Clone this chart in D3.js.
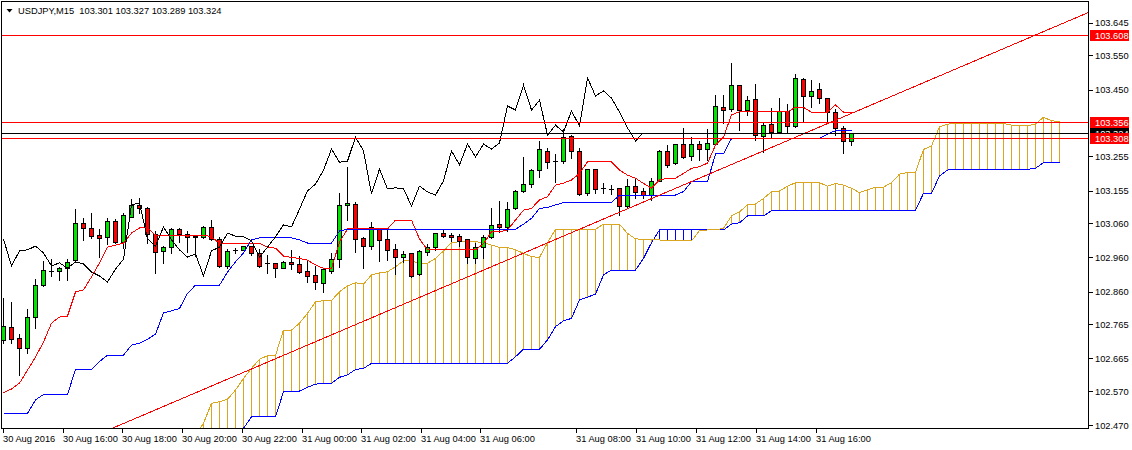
<!DOCTYPE html>
<html>
<head>
<meta charset="utf-8">
<script src="https://cdn.jsdelivr.net/npm/d3@7"></script>
<style>
  html,body{margin:0;padding:0;background:#fff;}
  svg{display:block;}
  text{font-family:"Liberation Sans",Arial,sans-serif;font-size:9.3px;fill:#000;}
</style>
</head>
<body>
<svg id="chart" width="1132" height="450"></svg>
<script>
// USDJPY M15 candles with Ichimoku, MT4 look

const SYMBOL_TITLE = "USDJPY,M15  103.301 103.327 103.289 103.324";

const OPEN = [
  102.719,102.757,102.725,102.696,102.786,102.879,102.920,102.920,102.929,102.952,
  103.060,103.046,103.025,103.020,103.066,103.005,103.078,103.113,103.104,103.028,
  102.979,102.990,103.043,103.028,103.022,103.020,103.049,103.014,102.935,102.982,
  102.982,102.993,102.973,102.944,102.944,102.929,102.947,102.941,102.920,102.909,
  102.885,102.920,102.955,103.113,103.116,103.017,102.993,103.046,103.014,102.985,
  102.961,102.973,102.912,102.976,102.990,103.031,103.025,103.022,103.014,102.958,
  102.990,103.020,103.057,103.049,103.104,103.154,103.174,103.215,103.270,103.241,
  103.241,103.314,103.271,103.148,103.218,103.163,103.160,103.163,103.110,103.168,
  103.154,103.142,103.183,103.271,103.236,103.291,103.256,103.291,103.276,103.291,
  103.399,103.393,103.463,103.390,103.422,103.314,103.349,103.326,103.387,103.344,
  103.481,103.431,103.452,103.425,103.384,103.338,103.301
];
const HIGH = [
  102.844,102.833,102.739,102.812,102.900,102.952,102.958,102.935,102.958,103.104,
  103.078,103.093,103.046,103.078,103.075,103.093,103.133,103.136,103.110,103.040,
  102.996,103.049,103.049,103.040,103.025,103.055,103.072,103.022,102.987,102.990,
  102.993,102.993,102.987,102.970,102.947,102.952,102.985,102.967,102.955,102.938,
  102.929,102.976,103.151,103.227,103.125,103.022,103.066,103.049,103.046,103.002,
  102.982,102.976,102.985,103.002,103.034,103.043,103.034,103.031,103.017,103.005,
  103.028,103.107,103.128,103.125,103.160,103.256,103.221,103.303,103.282,103.265,
  103.338,103.320,103.282,103.221,103.221,103.180,103.174,103.165,103.192,103.192,
  103.165,103.195,103.276,103.291,103.294,103.341,103.314,103.303,103.338,103.437,
  103.437,103.530,103.466,103.434,103.469,103.358,103.399,103.428,103.411,103.498,
  103.487,103.481,103.472,103.425,103.396,103.346,103.327
];
const LOW = [
  102.710,102.710,102.617,102.681,102.754,102.877,102.906,102.894,102.894,102.947,
  103.011,103.017,102.961,102.999,103.002,102.987,103.078,103.090,103.002,102.915,
  102.944,102.973,103.005,102.976,102.964,103.017,103.011,102.932,102.929,102.973,
  102.982,102.967,102.932,102.915,102.903,102.929,102.926,102.915,102.888,102.868,
  102.859,102.915,102.932,103.069,102.976,102.929,102.985,102.950,102.952,102.912,
  102.947,102.903,102.909,102.967,102.982,103.020,103.008,102.993,102.944,102.944,
  102.958,103.017,103.034,103.037,103.101,103.151,103.165,103.195,103.221,103.180,
  103.236,103.250,103.142,103.142,103.148,103.148,103.145,103.084,103.104,103.133,
  103.133,103.128,103.183,103.224,103.233,103.250,103.244,103.244,103.244,103.288,
  103.352,103.387,103.332,103.376,103.303,103.268,103.308,103.323,103.323,103.341,
  103.355,103.399,103.411,103.355,103.317,103.265,103.289
];
const CLOSE = [
  102.760,102.722,102.696,102.786,102.879,102.923,102.920,102.929,102.947,103.060,
  103.046,103.022,103.017,103.066,103.005,103.084,103.113,103.104,103.028,102.976,
  102.990,103.043,103.028,103.020,103.020,103.049,103.014,102.935,102.979,102.982,
  102.993,102.973,102.935,102.944,102.929,102.947,102.941,102.917,102.906,102.888,
  102.926,102.955,103.113,103.119,103.014,102.993,103.049,103.011,102.982,102.961,
  102.970,102.906,102.979,102.990,103.031,103.022,103.020,103.008,102.961,102.990,
  103.020,103.055,103.049,103.101,103.154,103.174,103.215,103.276,103.238,103.241,
  103.311,103.271,103.145,103.218,103.160,103.163,103.160,103.110,103.168,103.151,
  103.142,103.183,103.271,103.230,103.291,103.253,103.291,103.276,103.294,103.402,
  103.390,103.463,103.390,103.419,103.317,103.346,103.326,103.387,103.344,103.484,
  103.431,103.446,103.425,103.384,103.338,103.300,103.324
];

// Tenkan-sen (red) and Kijun-sen (blue), one value per bar
const TENKAN = [
  102.565,102.576,102.593,102.631,102.669,102.713,102.768,102.786,102.789,102.859,
  102.865,102.903,102.944,102.990,102.996,103.002,103.031,103.046,103.046,103.025,
  103.025,103.025,103.025,103.025,103.025,103.025,103.020,103.001,103.001,103.001,
  103.001,103.001,103.001,102.990,102.987,102.964,102.960,102.957,102.952,102.938,
  102.928,102.928,103.005,103.043,103.043,103.043,103.043,103.043,103.043,103.069,
  103.069,103.069,103.014,102.982,102.982,102.982,102.982,102.982,102.982,102.982,
  103.000,103.035,103.035,103.040,103.069,103.098,103.103,103.128,103.137,103.171,
  103.177,103.186,103.205,103.239,103.239,103.239,103.239,103.215,103.200,103.191,
  103.176,103.162,103.186,103.191,103.191,103.205,103.220,103.225,103.235,103.288,
  103.311,103.376,103.385,103.385,103.385,103.385,103.385,103.385,103.385,103.398,
  103.398,103.384,103.384,103.384,103.405,103.384,103.384
];
const KIJUN = [
  102.505,102.505,102.505,102.505,102.544,102.560,102.560,102.560,102.560,102.633,
  102.633,102.633,102.656,102.675,102.675,102.675,102.704,102.710,102.721,102.736,
  102.798,102.804,102.811,102.855,102.879,102.879,102.879,102.879,102.917,102.947,
  102.973,103.011,103.017,103.017,103.017,103.017,103.017,103.011,103.002,103.002,
  103.002,103.002,103.037,103.042,103.042,103.042,103.042,103.042,103.042,103.042,
  103.042,103.042,103.042,103.042,103.042,103.042,103.042,103.042,103.042,103.042,
  103.042,103.042,103.042,103.042,103.042,103.057,103.074,103.103,103.106,103.113,
  103.120,103.120,103.120,103.120,103.120,103.120,103.120,103.142,103.142,103.142,
  103.142,103.142,103.142,103.142,103.142,103.152,103.181,103.181,103.181,103.262,
  103.262,103.307,103.307,103.307,103.307,103.307,103.307,103.307,103.307,103.307,
  103.307,103.307,103.307,103.320,103.330,103.330,103.330
];

// Senkou spans as drawn (already shifted forward), starting at bar SPAN_FIRST_BAR
const SPAN_FIRST_BAR = 24;
const SPAN_A = [
  102.442,102.476,102.534,102.539,102.546,102.573,102.607,102.636,102.663,102.673,
  102.674,102.748,102.748,102.768,102.797,102.830,102.834,102.834,102.860,102.877,
  102.886,102.882,102.909,102.915,102.918,102.933,102.950,102.952,102.940,102.943,
  102.957,102.979,103.003,103.006,103.006,103.006,103.003,102.996,102.989,102.989,
  102.982,102.972,102.962,102.960,103.003,103.042,103.042,103.042,103.042,103.042,
  103.042,103.057,103.057,103.057,103.030,103.014,103.013,103.011,103.011,103.008,
  103.008,103.008,103.008,103.038,103.040,103.040,103.045,103.081,103.093,103.113,
  103.116,103.132,103.152,103.154,103.168,103.178,103.178,103.178,103.178,103.168,
  103.176,103.171,103.162,103.149,103.157,103.165,103.165,103.178,103.203,103.208,
  103.208,103.275,103.285,103.341,103.349,103.351,103.351,103.351,103.351,103.351,
  103.351,103.351,103.346,103.344,103.344,103.349,103.369,103.359,103.356
];
const SPAN_B = [
  102.339,102.363,102.383,102.398,102.412,102.427,102.461,102.495,102.495,102.495,
  102.495,102.568,102.568,102.570,102.581,102.590,102.593,102.593,102.610,102.617,
  102.633,102.636,102.651,102.651,102.651,102.651,102.651,102.651,102.651,102.651,
  102.651,102.651,102.651,102.651,102.651,102.651,102.651,102.651,102.651,102.651,
  102.670,102.692,102.692,102.692,102.719,102.758,102.775,102.782,102.836,102.844,
  102.853,102.909,102.923,102.923,102.923,102.923,102.957,103.003,103.040,103.040,
  103.040,103.040,103.040,103.040,103.040,103.040,103.040,103.057,103.061,103.081,
  103.081,103.081,103.096,103.096,103.096,103.096,103.096,103.096,103.096,103.096,
  103.096,103.096,103.096,103.096,103.096,103.096,103.096,103.098,103.098,103.098,
  103.098,103.147,103.147,103.198,103.215,103.217,103.217,103.217,103.217,103.217,
  103.217,103.217,103.217,103.217,103.217,103.220,103.237,103.238,103.238
];
const CHIKOU_SHIFT = 26;

// trend line anchors and horizontal levels
const TREND_POINTS = [{bar:20, price:102.525}, {bar:130, price:103.619}];
const RED_LEVELS = [103.608, 103.356, 103.308];
const BID_LEVEL = 103.324;

const PRICE_TICKS = [103.645,103.550,103.450,103.255,103.155,103.060,102.960,102.860,102.765,102.665,102.570,102.470];
const TIME_LABELS = ["30 Aug 2016","30 Aug 16:00","30 Aug 18:00","30 Aug 20:00","30 Aug 22:00",
  "31 Aug 00:00","31 Aug 02:00","31 Aug 04:00","31 Aug 06:00","31 Aug 08:00",
  "31 Aug 10:00","31 Aug 12:00","31 Aug 14:00","31 Aug 16:00"];
const TIME_TICK_BARS = [-0.1,7.4,14.8,22.3,29.8,37.3,44.7,52.15,59.6,71.55,79.1,86.55,94.05,101.5];

const C_BULL="#00e400", C_BEAR="#ff0000", C_TENKAN="#ff0000", C_KIJUN="#0000ff",
      C_SPANA="#daa520", C_SPANB="#0000ff", C_LEVEL="#ff0000";

const PL=2, PT=2, PR=1089, PB=429;

const svg=d3.select("#chart");
const x=d3.scaleLinear().domain([0,106]).range([3.5,851.5]);
const y=d3.scaleLinear().domain([102.470,103.645]).range([425.3,22.7]);
const py=v=>Math.round(y(v))+0.5;

svg.append("rect").attr("width",1132).attr("height",450).attr("fill","#fff");
svg.append("clipPath").attr("id","plot")
  .append("rect").attr("x",PL).attr("y",PT).attr("width",PR-PL).attr("height",PB-PT);

const g=svg.append("g").attr("clip-path","url(#plot)").style("shape-rendering","crispEdges");

// cloud hatching
const spanRows=SPAN_A.map((a,k)=>({bar:SPAN_FIRST_BAR+k, a, b:SPAN_B[k]}));
g.selectAll("line.hatch").data(spanRows).join("line").attr("class","hatch")
  .attr("x1",d=>x(d.bar)).attr("x2",d=>x(d.bar))
  .attr("y1",d=>y(d.a)).attr("y2",d=>y(d.b))
  .attr("stroke",d=>d.a>=d.b?C_SPANA:C_SPANB).attr("stroke-width",1);

const line=d3.line().x(d=>x(d[0])).y(d=>y(d[1]));
g.append("path").attr("d",line(spanRows.map(d=>[d.bar,d.b])))
  .attr("fill","none").attr("stroke",C_SPANB).attr("stroke-width",1);
g.append("path").attr("d",line(spanRows.map(d=>[d.bar,d.a])))
  .attr("fill","none").attr("stroke",C_SPANA).attr("stroke-width",1);

// candles
const bars=OPEN.map((o,i)=>({i,o,h:HIGH[i],l:LOW[i],c:CLOSE[i]}));
g.selectAll("line.wick").data(bars).join("line").attr("class","wick")
  .attr("x1",d=>x(d.i)).attr("x2",d=>x(d.i))
  .attr("y1",d=>py(d.h)).attr("y2",d=>py(d.l))
  .attr("stroke","#000").attr("stroke-width",1);
g.selectAll("rect.body").data(bars.filter(d=>d.o!==d.c)).join("rect").attr("class","body")
  .attr("x",d=>x(d.i)-2).attr("width",4)
  .attr("y",d=>py(Math.max(d.o,d.c)))
  .attr("height",d=>Math.max(1,py(Math.min(d.o,d.c))-py(Math.max(d.o,d.c))))
  .attr("fill",d=>d.c>d.o?C_BULL:C_BEAR)
  .attr("stroke","#000").attr("stroke-width",1);
g.selectAll("line.doji").data(bars.filter(d=>d.o===d.c)).join("line").attr("class","doji")
  .attr("x1",d=>x(d.i)-2.5).attr("x2",d=>x(d.i)+2.5)
  .attr("y1",d=>py(d.c)).attr("y2",d=>py(d.c))
  .attr("stroke","#000").attr("stroke-width",1);

// Ichimoku lines
g.append("path").attr("d",line(TENKAN.map((v,i)=>[i,v])))
  .attr("fill","none").attr("stroke",C_TENKAN).attr("stroke-width",1);
g.append("path").attr("d",line(KIJUN.map((v,i)=>[i,v])))
  .attr("fill","none").attr("stroke",C_KIJUN).attr("stroke-width",1);
g.append("path").attr("d",line(CLOSE.slice(CHIKOU_SHIFT).map((v,j)=>[j,v])))
  .attr("fill","none").attr("stroke","#000").attr("stroke-width",1);

// trend line (extended across the plot)
const [tp1,tp2]=TREND_POINTS;
const slope=(tp2.price-tp1.price)/(tp2.bar-tp1.bar);
const b0=x.invert(PL), b1=x.invert(PR);
g.append("line")
  .attr("x1",x(b0)).attr("y1",y(tp1.price+slope*(b0-tp1.bar)))
  .attr("x2",x(b1)).attr("y2",y(tp1.price+slope*(b1-tp1.bar)))
  .attr("stroke",C_LEVEL).attr("stroke-width",1);

// horizontal levels
g.append("line").attr("x1",PL).attr("x2",PR).attr("y1",py(BID_LEVEL)).attr("y2",py(BID_LEVEL))
  .attr("stroke","#000").attr("stroke-width",1);
g.selectAll("line.lvl").data(RED_LEVELS).join("line").attr("class","lvl")
  .attr("x1",PL).attr("x2",PR).attr("y1",d=>py(d)).attr("y2",d=>py(d))
  .attr("stroke",C_LEVEL).attr("stroke-width",1);

// frame
svg.append("rect").attr("x",PL-0.5).attr("y",PT-0.5).attr("width",PR-PL).attr("height",PB-PT)
  .attr("fill","none").attr("stroke","#000").attr("stroke-width",1)
  .style("shape-rendering","crispEdges");

// price axis
const ax=svg.append("g").style("shape-rendering","crispEdges");
ax.selectAll("line.pt").data(PRICE_TICKS).join("line").attr("class","pt")
  .attr("x1",PR-0.5).attr("x2",PR+4).attr("y1",d=>py(d)).attr("y2",d=>py(d))
  .attr("stroke","#000");
ax.selectAll("text.pt").data(PRICE_TICKS).join("text").attr("class","pt")
  .attr("x",PR+6).attr("y",d=>y(d)+3.5).text(d=>d.toFixed(3));

// price boxes (bid box sits under the red ones, as in the terminal)
function priceBox(v,col){
  const yy=Math.round(y(v));
  ax.append("rect").attr("x",PR+1).attr("y",yy-5).attr("width",39).attr("height",11).attr("fill",col);
  ax.append("text").attr("x",PR+6).attr("y",yy+3.5).style("fill","#fff").text(v.toFixed(3));
}
priceBox(BID_LEVEL,"#000");
RED_LEVELS.forEach(v=>priceBox(v,C_LEVEL));

// time axis
ax.selectAll("line.tt").data(TIME_TICK_BARS).join("line").attr("class","tt")
  .attr("x1",d=>Math.round(x(d))+0.5).attr("x2",d=>Math.round(x(d))+0.5)
  .attr("y1",PB-0.5).attr("y2",PB+4).attr("stroke","#000");
ax.selectAll("text.tt").data(TIME_TICK_BARS).join("text").attr("class","tt")
  .attr("x",d=>Math.round(x(d))).attr("y",PB+13).text((d,i)=>TIME_LABELS[i]);

// title
svg.append("path").attr("d","M6.5,9 L12.5,9 L9.5,12.5 Z").attr("fill","#000");
svg.append("text").attr("x",18).attr("y",14).style("white-space","pre").text(SYMBOL_TITLE);
</script>
</body>
</html>
